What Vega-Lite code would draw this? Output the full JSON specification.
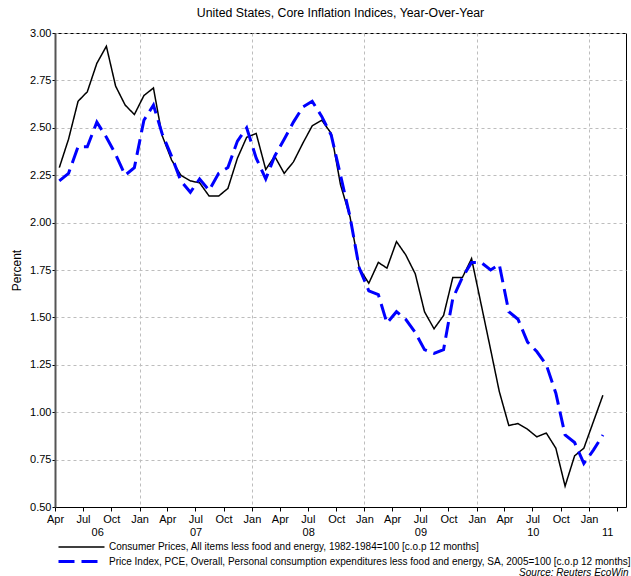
{
  "$schema": "https://vega.github.io/schema/vega-lite/v6.json",
  "width": 571,
  "height": 474,
  "autosize": {"type": "none"},
  "padding": {"left": 55, "top": 33, "right": 5, "bottom": 69},
  "background": "white",
  "config": {
    "font": "Liberation Sans",
    "view": {"stroke": "black", "strokeWidth": 1}
  },
  "title": {
    "text": "United States, Core Inflation Indices, Year-Over-Year",
    "fontSize": 12.3,
    "fontWeight": "normal",
    "anchor": "middle",
    "offset": 8,
    "color": "black"
  },
  "layer": [
    {
      "data": {
        "values": [
          {"d": "2006-04-15", "s": "c", "v": 2.29}, {"d": "2006-05-15", "s": "c", "v": 2.44}, {"d": "2006-06-15", "s": "c", "v": 2.64},
          {"d": "2006-07-15", "s": "c", "v": 2.69}, {"d": "2006-08-15", "s": "c", "v": 2.84}, {"d": "2006-09-15", "s": "c", "v": 2.93},
          {"d": "2006-10-15", "s": "c", "v": 2.72}, {"d": "2006-11-15", "s": "c", "v": 2.62}, {"d": "2006-12-15", "s": "c", "v": 2.57},
          {"d": "2007-01-15", "s": "c", "v": 2.67}, {"d": "2007-02-15", "s": "c", "v": 2.71}, {"d": "2007-03-15", "s": "c", "v": 2.46},
          {"d": "2007-04-15", "s": "c", "v": 2.33}, {"d": "2007-05-15", "s": "c", "v": 2.25}, {"d": "2007-06-15", "s": "c", "v": 2.22},
          {"d": "2007-07-15", "s": "c", "v": 2.21}, {"d": "2007-08-15", "s": "c", "v": 2.14}, {"d": "2007-09-15", "s": "c", "v": 2.14},
          {"d": "2007-10-15", "s": "c", "v": 2.18}, {"d": "2007-11-15", "s": "c", "v": 2.34}, {"d": "2007-12-15", "s": "c", "v": 2.45},
          {"d": "2008-01-15", "s": "c", "v": 2.47}, {"d": "2008-02-15", "s": "c", "v": 2.28}, {"d": "2008-03-15", "s": "c", "v": 2.35},
          {"d": "2008-04-15", "s": "c", "v": 2.26}, {"d": "2008-05-15", "s": "c", "v": 2.32}, {"d": "2008-06-15", "s": "c", "v": 2.42},
          {"d": "2008-07-15", "s": "c", "v": 2.51}, {"d": "2008-08-15", "s": "c", "v": 2.54}, {"d": "2008-09-15", "s": "c", "v": 2.47},
          {"d": "2008-10-15", "s": "c", "v": 2.20}, {"d": "2008-11-15", "s": "c", "v": 2.03}, {"d": "2008-12-15", "s": "c", "v": 1.76},
          {"d": "2009-01-15", "s": "c", "v": 1.68}, {"d": "2009-02-15", "s": "c", "v": 1.79}, {"d": "2009-03-15", "s": "c", "v": 1.76},
          {"d": "2009-04-15", "s": "c", "v": 1.90}, {"d": "2009-05-15", "s": "c", "v": 1.83}, {"d": "2009-06-15", "s": "c", "v": 1.73},
          {"d": "2009-07-15", "s": "c", "v": 1.53}, {"d": "2009-08-15", "s": "c", "v": 1.44}, {"d": "2009-09-15", "s": "c", "v": 1.51},
          {"d": "2009-10-15", "s": "c", "v": 1.71}, {"d": "2009-11-15", "s": "c", "v": 1.71}, {"d": "2009-12-15", "s": "c", "v": 1.81},
          {"d": "2010-01-15", "s": "c", "v": 1.57}, {"d": "2010-02-15", "s": "c", "v": 1.33}, {"d": "2010-03-15", "s": "c", "v": 1.11},
          {"d": "2010-04-15", "s": "c", "v": 0.93}, {"d": "2010-05-15", "s": "c", "v": 0.94}, {"d": "2010-06-15", "s": "c", "v": 0.91},
          {"d": "2010-07-15", "s": "c", "v": 0.87}, {"d": "2010-08-15", "s": "c", "v": 0.89}, {"d": "2010-09-15", "s": "c", "v": 0.81},
          {"d": "2010-10-15", "s": "c", "v": 0.61}, {"d": "2010-11-15", "s": "c", "v": 0.77}, {"d": "2010-12-15", "s": "c", "v": 0.81},
          {"d": "2011-01-15", "s": "c", "v": 0.95}, {"d": "2011-02-15", "s": "c", "v": 1.09},
          {"d": "2006-04-15", "s": "p", "v": 2.22}, {"d": "2006-05-15", "s": "p", "v": 2.26}, {"d": "2006-06-15", "s": "p", "v": 2.40},
          {"d": "2006-07-15", "s": "p", "v": 2.40}, {"d": "2006-08-15", "s": "p", "v": 2.53}, {"d": "2006-09-15", "s": "p", "v": 2.45},
          {"d": "2006-10-15", "s": "p", "v": 2.36}, {"d": "2006-11-15", "s": "p", "v": 2.25}, {"d": "2006-12-15", "s": "p", "v": 2.29},
          {"d": "2007-01-15", "s": "p", "v": 2.54}, {"d": "2007-02-15", "s": "p", "v": 2.62}, {"d": "2007-03-15", "s": "p", "v": 2.47},
          {"d": "2007-04-15", "s": "p", "v": 2.35}, {"d": "2007-05-15", "s": "p", "v": 2.22}, {"d": "2007-06-15", "s": "p", "v": 2.16},
          {"d": "2007-07-15", "s": "p", "v": 2.23}, {"d": "2007-08-15", "s": "p", "v": 2.17}, {"d": "2007-09-15", "s": "p", "v": 2.26},
          {"d": "2007-10-15", "s": "p", "v": 2.29}, {"d": "2007-11-15", "s": "p", "v": 2.43}, {"d": "2007-12-15", "s": "p", "v": 2.50},
          {"d": "2008-01-15", "s": "p", "v": 2.34}, {"d": "2008-02-15", "s": "p", "v": 2.23}, {"d": "2008-03-15", "s": "p", "v": 2.35},
          {"d": "2008-04-15", "s": "p", "v": 2.44}, {"d": "2008-05-15", "s": "p", "v": 2.53}, {"d": "2008-06-15", "s": "p", "v": 2.61},
          {"d": "2008-07-15", "s": "p", "v": 2.64}, {"d": "2008-08-15", "s": "p", "v": 2.56}, {"d": "2008-09-15", "s": "p", "v": 2.46},
          {"d": "2008-10-15", "s": "p", "v": 2.25}, {"d": "2008-11-15", "s": "p", "v": 2.03}, {"d": "2008-12-15", "s": "p", "v": 1.76},
          {"d": "2009-01-15", "s": "p", "v": 1.64}, {"d": "2009-02-15", "s": "p", "v": 1.62}, {"d": "2009-03-15", "s": "p", "v": 1.47},
          {"d": "2009-04-15", "s": "p", "v": 1.53}, {"d": "2009-05-15", "s": "p", "v": 1.49}, {"d": "2009-06-15", "s": "p", "v": 1.42},
          {"d": "2009-07-15", "s": "p", "v": 1.33}, {"d": "2009-08-15", "s": "p", "v": 1.31}, {"d": "2009-09-15", "s": "p", "v": 1.33},
          {"d": "2009-10-15", "s": "p", "v": 1.60}, {"d": "2009-11-15", "s": "p", "v": 1.71}, {"d": "2009-12-15", "s": "p", "v": 1.79},
          {"d": "2010-01-15", "s": "p", "v": 1.79}, {"d": "2010-02-15", "s": "p", "v": 1.75}, {"d": "2010-03-15", "s": "p", "v": 1.78},
          {"d": "2010-04-15", "s": "p", "v": 1.53}, {"d": "2010-05-15", "s": "p", "v": 1.49}, {"d": "2010-06-15", "s": "p", "v": 1.37},
          {"d": "2010-07-15", "s": "p", "v": 1.32}, {"d": "2010-08-15", "s": "p", "v": 1.25}, {"d": "2010-09-15", "s": "p", "v": 1.10},
          {"d": "2010-10-15", "s": "p", "v": 0.88}, {"d": "2010-11-15", "s": "p", "v": 0.84}, {"d": "2010-12-15", "s": "p", "v": 0.73},
          {"d": "2011-01-15", "s": "p", "v": 0.80}, {"d": "2011-02-15", "s": "p", "v": 0.88}
        ]
      },
      "mark": {"type": "line", "strokeCap": "butt", "strokeJoin": "miter"},
      "encoding": {
        "x": {
          "field": "d",
          "type": "temporal",
          "scale": {
            "type": "utc",
            "domain": [
              {"year": 2006, "month": 4, "date": 1, "utc": true},
              {"year": 2011, "month": 5, "date": 1, "utc": true}
            ],
            "nice": false
          },
          "axis": {
            "title": null,
            "tickCount": {"interval": "month", "step": 3},
            "labelExpr": "utcyear(datum.value) == 2011 && utcmonth(datum.value) == 3 ? '' : utcFormat(datum.value, '%b')",
            "labelFont": "Liberation Sans",
            "labelFontSize": 11,
            "labelColor": "black",
            "labelFlush": false,
            "labelOverlap": false,
            "labelPadding": 2,
            "tickSize": 4,
            "tickColor": "black",
            "domainColor": "black",
            "gridColor": "#bdbdbd",
            "gridDash": [3, 3],
            "gridOpacity": {"condition": {"test": "utcmonth(datum.value) == 0", "value": 1}, "value": 0}
          }
        },
        "y": {
          "field": "v",
          "type": "quantitative",
          "scale": {"domain": [0.5, 3], "nice": false, "zero": false},
          "axis": {
            "title": "Percent",
            "titleFont": "Liberation Sans",
            "titleFontSize": 12,
            "titleFontWeight": "normal",
            "titleColor": "black",
            "titlePadding": 6,
            "values": [0.5, 0.75, 1, 1.25, 1.5, 1.75, 2, 2.25, 2.5, 2.75, 3],
            "format": ".2f",
            "labelFontSize": 11,
            "labelColor": "black",
            "labelPadding": 1,
            "tickSize": 3,
            "tickColor": "black",
            "domainColor": "#555555",
            "domainWidth": 2,
            "gridColor": "#bdbdbd",
            "gridDash": [3, 3]
          }
        },
        "color": {
          "field": "s",
          "type": "nominal",
          "scale": {"domain": ["c", "p"], "range": ["#000000", "#0000ff"]},
          "legend": {
            "orient": "none",
            "legendX": 20,
            "legendY": 508,
            "direction": "vertical",
            "title": null,
            "symbolType": "M-4.6,0H4.6",
            "symbolSize": 100,
            "labelFont": "Liberation Sans",
            "labelFontSize": 10,
            "labelColor": "black",
            "labelLimit": 1000,
            "labelOffset": 21,
            "rowPadding": 3,
            "labelExpr": "datum.value == 'c' ? 'Consumer Prices, All items less food and energy, 1982-1984=100 [c.o.p 12 months]' : 'Price Index, PCE, Overall, Personal consumption expenditures less food and energy, SA, 2005=100 [c.o.p 12 months]'"
          }
        },
        "strokeDash": {
          "field": "s",
          "type": "nominal",
          "scale": {"domain": ["c", "p"], "range": [[1, 0], [16, 7]]}
        },
        "strokeWidth": {
          "field": "s",
          "type": "nominal",
          "scale": {"domain": ["c", "p"], "range": [1.5, 3]}
        }
      }
    },
    {
      "data": {
        "values": [
          {"yr": "06", "mid": "2006-08-16"},
          {"yr": "07", "mid": "2007-07-02"},
          {"yr": "08", "mid": "2008-07-02"},
          {"yr": "09", "mid": "2009-07-02"},
          {"yr": "10", "mid": "2010-07-02"},
          {"yr": "11", "mid": "2011-03-01"}
        ]
      },
      "mark": {"type": "point", "opacity": 0},
      "encoding": {
        "x": {
          "field": "mid",
          "type": "temporal",
          "scale": {
            "type": "utc",
            "domain": [
              {"year": 2006, "month": 4, "date": 1, "utc": true},
              {"year": 2011, "month": 5, "date": 1, "utc": true}
            ],
            "nice": false
          },
          "axis": {
            "orient": "bottom",
            "values": [
              {"year": 2006, "month": 8, "date": 16, "utc": true},
              {"year": 2007, "month": 7, "date": 2, "utc": true},
              {"year": 2008, "month": 7, "date": 2, "utc": true},
              {"year": 2009, "month": 7, "date": 2, "utc": true},
              {"year": 2010, "month": 7, "date": 2, "utc": true},
              {"year": 2011, "month": 3, "date": 1, "utc": true}
            ],
            "labelExpr": "utcFormat(datum.value, '%y')",
            "labelFont": "Liberation Sans",
            "labelFontSize": 11,
            "labelColor": "black",
            "labelFlush": false,
            "labelOverlap": false,
            "labelPadding": 19,
            "ticks": false,
            "domain": false,
            "grid": false,
            "title": "Source: Reuters EcoWin",
            "titleFont": "Liberation Sans",
            "titleFontStyle": "italic",
            "titleFontWeight": "normal",
            "titleFontSize": 10,
            "titleColor": "black",
            "titleAnchor": "end",
            "titleAlign": "right",
            "titleBaseline": "middle",
            "titleX": 573,
            "titleY": 65
          }
        }
      }
    }
  ],
  "resolve": {"scale": {"x": "independent"}, "axis": {"x": "independent"}}
}
